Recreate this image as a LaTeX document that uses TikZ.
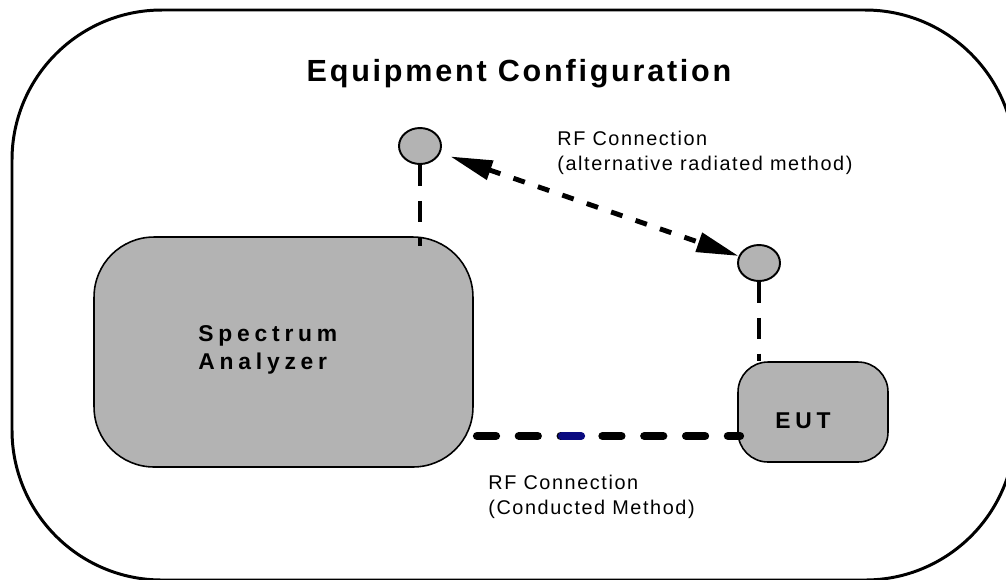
\documentclass[tikz,border=0pt]{standalone}
\usepackage{fontspec}
\setmainfont{Liberation Sans}
\usepackage{xcolor}
\usepackage{tikz}
\usetikzlibrary{positioning}
\usetikzlibrary{arrows.meta}
\usetikzlibrary{shapes.geometric}

\definecolor{boxgray}{HTML}{B3B3B3}
\definecolor{cablenavy}{HTML}{0A0A80}

\begin{document}
\begin{tikzpicture}[x=0.02cm, y=-0.02cm,
    unit/.style={draw, fill=boxgray, line width=0.9pt, rounded corners=1.2cm},
    antenna/.style={ellipse, draw, fill=boxgray, line width=1.1pt, minimum width=0.84cm, minimum height=0.72cm, inner sep=0pt},
    boxlabel/.style={font=\fontsize{13}{15.9}\selectfont\bfseries\addfontfeature{LetterSpace=21}, align=left, inner sep=0pt},
    note/.style={font=\fontsize{11.3}{14.2}\selectfont\addfontfeature{LetterSpace=8}, align=left, inner sep=0pt},
    feed/.style={line width=2.3pt, dash pattern=on 11.9pt off 8.5pt},
    conducted/.style={line width=4.7pt, line cap=round, dash pattern=on 10.8pt off 13pt},
    radiated/.style={line width=2.8pt, dash pattern=on 6.8pt off 7.9pt, {Triangle[length=24pt,width=11pt]}-{Triangle[length=24pt,width=11pt]}, shorten <=6pt}]
            \useasboundingbox (0,0) rectangle (1006,579);
            \clip (0,0) rectangle (1006,579);
            % Outer frame and title
            \draw[line width=1.7pt, rounded corners=3cm] (12,10) rectangle (1015,580);
            \node[font=\fontsize{17.4}{20}\selectfont\bfseries\addfontfeature{LetterSpace=9}, inner sep=0pt] (title) at (519,74) {Equipment Configuration};

            % Units and antennas
            \node[unit, minimum width=7.58cm, minimum height=4.6cm] (sa) at (283.5,352) {};
            \node[boxlabel, anchor=west] (satext) at (198,350) {Spectrum\\Analyzer};
            \node[unit, rounded corners=0.6cm, minimum width=3cm, minimum height=2cm] (eut) at (813,412) {};
            \node[boxlabel] (euttext) at (803,421) {EUT};
            \node[antenna] (ant1) at (420,146) {};
            \node[antenna] (ant2) at (759,263) {};

            % Connections
            \draw[feed] (ant1.south) -- ([yshift=-5.7pt]ant1.south |- sa.north);
            \draw[feed] (ant2.south) -- (ant2.south |- eut.north);
            \draw[radiated] (ant1) -- (ant2);

            \coordinate (cstart) at (477,436);
            \coordinate (cend) at (740,436);
            \coordinate (mark1) at (562,436);
            \coordinate (mark2) at (581,436);
            \draw[conducted] (cstart) -- (cend);
            \draw[line width=4.7pt, line cap=round, cablenavy] (mark1) -- (mark2);

            \node[note, anchor=west] (radtext) at (557,153) {RF Connection\\(alternative radiated method)};
            \node[note, anchor=west] (context) at (488,497) {RF Connection\\(Conducted Method)};
        \end{tikzpicture}
\end{document}
